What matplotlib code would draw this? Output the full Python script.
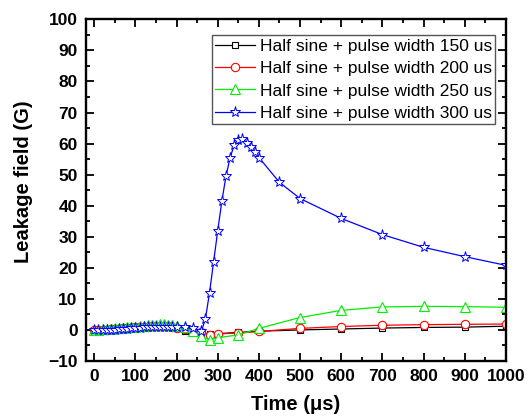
# Leakage field vs time for half sine + pulse excitation
import matplotlib.pyplot as plt

plt.rcParams['font.family'] = ['Liberation Sans', 'DejaVu Sans']

# SECTION 1 - DATA
# ------------------------------------------------

# time points for the 150/200/250 us series
time_a = [0, 10, 20, 30, 40, 50, 60, 70, 80, 90, 100, 110, 120, 130, 140, 150,
          160, 170, 180, 190, 200, 220, 240, 260, 280, 300, 350, 400,
          500, 600, 700, 800, 900, 1000]

# time points for the 300 us series
time_b = [0, 10, 20, 30, 40, 50, 60, 70, 80, 90, 100, 110, 120, 130, 140, 150,
          160, 170, 180, 190, 200, 220, 240, 260, 270, 280, 290, 300, 310, 320,
          330, 340, 350, 360, 370, 380, 390, 400, 450, 500, 600, 700, 800, 900, 1000]

field_150 = [0.0, 0.0, 0.0, 0.0, 0.1, 0.2, 0.3, 0.4, 0.5, 0.6, 0.7, 0.8, 0.9,
             1.0, 1.1, 1.1, 1.2, 1.2, 1.1, 0.9, 0.5, -0.3, -0.8, -1.0, -1.3,
             -1.2, -0.8, -0.4, 0.0, 0.3, 0.6, 0.8, 0.9, 1.2]
field_200 = [0.0, 0.0, 0.0, 0.1, 0.2, 0.3, 0.4, 0.5, 0.6, 0.7, 0.8, 0.9, 1.0,
             1.1, 1.2, 1.2, 1.3, 1.3, 1.2, 1.0, 0.7, 0.2, -0.3, -0.8, -1.5,
             -1.3, -1.0, -0.5, 0.5, 1.1, 1.5, 1.7, 1.8, 1.9]
field_250 = [0.0, 0.1, 0.2, 0.3, 0.4, 0.5, 0.6, 0.7, 0.8, 1.0, 1.1, 1.2, 1.4,
             1.5, 1.6, 1.7, 1.8, 1.8, 1.7, 1.6, 1.4, 0.9, -0.2, -2.0, -3.2,
             -2.5, -1.6, 0.5, 4.0, 6.3, 7.4, 7.6, 7.5, 7.3]
field_300 = [0.0, 0.0, 0.0, 0.0, 0.0, 0.1, 0.2, 0.3, 0.4, 0.5, 0.6, 0.7, 0.8,
             0.9, 1.0, 1.0, 1.1, 1.1, 1.1, 1.1, 1.0, 0.8, 0.5, -0.5, 3.5, 12.0,
             22.0, 32.0, 41.5, 49.5, 55.5, 59.5, 61.2, 61.6, 60.3, 58.9, 57.4,
             55.5, 47.5, 42.3, 35.9, 30.7, 26.6, 23.6, 20.8]

labels = ['Half sine + pulse width 150 us',
          'Half sine + pulse width 200 us',
          'Half sine + pulse width 250 us',
          'Half sine + pulse width 300 us']

x_ticks = [0, 100, 200, 300, 400, 500, 600, 700, 800, 900, 1000]
y_ticks = [-10, 0, 10, 20, 30, 40, 50, 60, 70, 80, 90, 100]


# SECTION 2 - PLOT
# ------------------------------------------------

fig = plt.figure(figsize=(5.28, 4.2), dpi=100)
ax = fig.add_axes([0.163, 0.1405, 0.795, 0.8135])

ax.plot(time_a, field_150, color='black', marker='s', ms=5, mfc='white',
        mew=0.8, lw=0.9, label=labels[0])
ax.plot(time_a, field_200, color='red', marker='o', ms=6, mfc='white',
        mew=0.8, lw=0.9, label=labels[1])
ax.plot(time_a, field_250, color='#00ee00', marker='^', ms=7, mfc='white',
        mew=0.8, lw=0.9, label=labels[2])
ax.plot(time_b, field_300, color='blue', marker='*', ms=8, mfc='white',
        mew=0.7, lw=0.9, label=labels[3])

# Axes format
ax.set_xlim(-20, 1000)
ax.set_ylim(-10, 100)
ax.set_xticks(x_ticks)
ax.set_yticks(y_ticks)
ax.set_xticks(range(0, 1001, 50), minor=True)
ax.set_yticks(range(-10, 101, 5), minor=True)
ax.tick_params(which='both', direction='in', top=True, right=True, width=1.3,
               labelsize=12.5)
ax.tick_params(which='major', length=6, pad=6)
ax.tick_params(which='minor', length=3)
for lab in ax.get_xticklabels() + ax.get_yticklabels():
    lab.set_fontweight('bold')
for sp in ax.spines.values():
    sp.set_linewidth(1.7)

ax.set_xlabel('Time (μs)', fontsize=14.5, fontweight='bold')
ax.set_ylabel('Leakage field (G)', fontsize=14.5, fontweight='bold')
ax.xaxis.set_label_coords(0.5, -0.10)
ax.yaxis.set_label_coords(-0.126, 0.525)

leg = ax.legend(loc='upper right', bbox_to_anchor=(0.975, 0.954),
                borderaxespad=0, fontsize=12.5, fancybox=False,
                handlelength=2.3, handletextpad=0.25, labelspacing=0.42,
                borderpad=0.2, framealpha=1)
leg.get_frame().set_edgecolor('#555555')
leg.get_frame().set_linewidth(1.0)

plt.savefig('out.png', dpi=100)
